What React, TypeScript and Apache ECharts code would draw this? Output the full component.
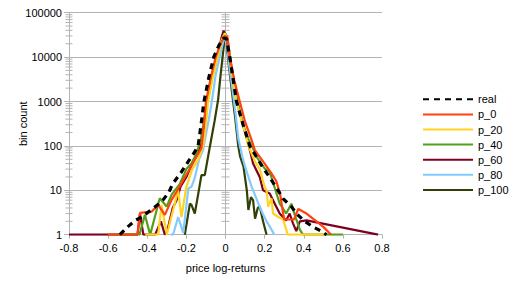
import React, { useEffect, useRef } from "react";
import * as echarts from "echarts";

const seriesNames = ["real", "p_0", "p_20", "p_40", "p_60", "p_80", "p_100"];
const seriesColors = ["#000000", "#ff420e", "#ffd320", "#579d1c", "#7e0021", "#83caff", "#314004"];

const realData = [[-0.54,1],[-0.5,1.5],[-0.46,2.1],[-0.43,2.5],[-0.38,3.6],[-0.34,5],[-0.32,6],[-0.29,9],[-0.27,14],[-0.225,26],[-0.19,45],[-0.16,70],[-0.14,100],[-0.125,300],[-0.11,1000],[-0.085,3500],[-0.06,10000],[-0.035,18000],[-0.01,27000],[0.005,26000],[0.022,10000],[0.04,3000],[0.056,1000],[0.09,300],[0.124,100],[0.16,55],[0.19,33],[0.218,22],[0.252,13],[0.275,9],[0.294,6.5],[0.337,4.3],[0.362,3],[0.405,2],[0.447,1.5],[0.49,1.2],[0.516,1]];
const p0Data = [[-0.6,1],[-0.45,1],[-0.437,3.1],[-0.378,3.3],[-0.344,4.7],[-0.31,2.8],[-0.276,6],[-0.25,9.3],[-0.216,17],[-0.182,31],[-0.148,57],[-0.123,90],[-0.11,300],[-0.1,1000],[-0.075,3500],[-0.05,10000],[-0.025,20000],[-0.005,30000],[0.01,28000],[0.022,10000],[0.045,3000],[0.073,1000],[0.1,350],[0.13,150],[0.15,80],[0.2,40],[0.235,24],[0.26,16],[0.28,8],[0.29,4],[0.3,2.2],[0.35,2.2],[0.372,3.8],[0.414,3],[0.465,2],[0.5,1.5],[0.54,1]];
const p20Data = [[-0.41,1],[-0.344,1],[-0.327,4.7],[-0.3,1],[-0.242,10],[-0.225,2.5],[-0.2,12],[-0.17,30],[-0.14,48],[-0.114,100],[-0.1,300],[-0.089,1000],[-0.065,3500],[-0.04,10000],[-0.018,25000],[-0.003,34000],[0.01,25000],[0.025,8000],[0.04,2500],[0.056,1000],[0.08,400],[0.1,200],[0.117,100],[0.15,45],[0.175,30],[0.2,12],[0.21,10],[0.218,4.3],[0.235,6.6],[0.243,3],[0.27,2.5],[0.295,2.2],[0.318,1],[0.51,1]];
const p40Data = [[-0.6,1],[-0.44,1],[-0.412,2.8],[-0.385,1],[-0.336,6.6],[-0.301,4.3],[-0.275,8],[-0.233,14],[-0.2,30],[-0.174,40],[-0.15,65],[-0.125,150],[-0.108,400],[-0.095,1000],[-0.07,3500],[-0.045,10000],[-0.02,25000],[-0.003,35000],[0.01,26000],[0.025,9000],[0.045,2500],[0.062,1000],[0.09,300],[0.12,130],[0.14,90],[0.158,57],[0.2,31],[0.226,26],[0.25,12],[0.277,5],[0.294,3.9],[0.31,3],[0.337,5],[0.354,2.8],[0.38,1.3],[0.396,1],[0.6,1]];
const p60Data = [[-0.8,1],[-0.45,1],[-0.437,3],[-0.42,1],[-0.36,1],[-0.33,2],[-0.31,1],[-0.293,1.5],[-0.27,4],[-0.25,6],[-0.23,12],[-0.2,20],[-0.17,40],[-0.14,70],[-0.12,130],[-0.105,400],[-0.092,1000],[-0.068,3500],[-0.042,10000],[-0.02,28000],[-0.01,39000],[0.005,30000],[0.02,10000],[0.04,3000],[0.058,1000],[0.085,350],[0.117,110],[0.141,40],[0.175,20],[0.192,10],[0.226,8.5],[0.252,5],[0.277,3],[0.31,2.1],[0.328,3],[0.345,1.8],[0.362,1.2],[0.38,2],[0.414,2.1],[0.78,1]];
const p80Data = [[-0.28,1],[-0.268,1],[-0.242,2.5],[-0.216,1.1],[-0.19,11],[-0.174,12],[-0.157,19],[-0.135,50],[-0.115,80],[-0.1,180],[-0.085,400],[-0.07,1000],[-0.05,4000],[-0.03,10000],[-0.012,22000],[-0.002,30000],[0.008,20000],[0.02,6000],[0.035,2000],[0.05,600],[0.065,150],[0.085,60],[0.1,34],[0.134,12],[0.168,5],[0.19,3],[0.21,2],[0.235,1.3],[0.25,1]];
const p100Data = [[-0.208,1],[-0.182,5],[-0.174,4.7],[-0.157,3],[-0.14,8],[-0.123,22],[-0.106,22],[-0.08,96],[-0.055,380],[-0.038,1080],[-0.025,4000],[-0.015,10000],[-0.005,25000],[0,30000],[0.008,15000],[0.02,5000],[0.039,1000],[0.049,450],[0.065,100],[0.075,57],[0.092,34],[0.109,10],[0.117,3.6],[0.13,7],[0.141,6],[0.151,2.3],[0.165,4],[0.175,4.3],[0.192,2],[0.21,1]];

const allData = [realData, p0Data, p20Data, p40Data, p60Data, p80Data, p100Data];

const minorMultipliers = [2, 3, 4, 5, 6, 7, 8, 9];
const decades = [1, 10, 100, 1000, 10000];

const FONT = "Liberation Sans";
const GRID_GRAY = "#b3b3b3";

export default function App() {
  const ref = useRef<HTMLDivElement>(null);
  useEffect(() => {
    if (!ref.current) return;
    const chart = echarts.init(ref.current, null, { renderer: "svg" });
    const minorTicks: number[][] = [];
    decades.forEach((d) => minorMultipliers.forEach((m) => minorTicks.push([0, m * d])));

    const lineSeries = seriesNames.map((name, i) => ({
      name,
      type: "line",
      data: allData[i],
      symbol: "none",
      showSymbol: false,
      z: 10 - i,
      color: seriesColors[i],
      lineStyle:
        i === 0
          ? { color: seriesColors[i], width: 3.2, type: [6, 5] }
          : { color: seriesColors[i], width: 2.2 },
      clip: true,
    }));

    const tickSeries = {
      name: "minorTicks",
      type: "custom",
      z: 1,
      silent: true,
      clip: false,
      data: minorTicks,
      encode: { x: 0, y: 1 },
      renderItem: (params: any, api: any) => {
        const v = api.value(1);
        const pL = api.coord([-0.8, v]);
        const pC = api.coord([0, v]);
        const st = { stroke: GRID_GRAY, lineWidth: 1 };
        return {
          type: "group",
          children: [
            { type: "line", shape: { x1: pL[0] - 3.5, y1: pL[1], x2: pL[0] + 3.5, y2: pL[1] }, style: st },
            { type: "line", shape: { x1: pC[0] - 4, y1: pC[1], x2: pC[0] + 4, y2: pC[1] }, style: st },
          ],
        };
      },
      markLine: {
        silent: true,
        symbol: "none",
        label: { show: false },
        lineStyle: { color: GRID_GRAY, width: 1, type: "solid" },
        data: [{ xAxis: 0 }],
      },
    };

    chart.setOption({
      animation: false,
      textStyle: { fontFamily: FONT },
      grid: { left: 69, right: 135, top: 12.7, bottom: 56.3, containLabel: false, outerBoundsMode: "none" },
      legend: {
        orient: "vertical",
        left: 422,
        top: 93.7,
        padding: 0,
        itemWidth: 50,
        itemHeight: 14,
        itemGap: 3.9,
        data: seriesNames,
        itemStyle: { opacity: 0 },
        textStyle: { fontFamily: FONT, fontSize: 11, color: "#000" },
      },
      xAxis: {
        type: "value",
        min: -0.8,
        max: 0.8,
        interval: 0.2,
        name: "price log-returns",
        nameLocation: "middle",
        nameGap: 28,
        nameMoveOverlap: false,
        nameTextStyle: { fontFamily: FONT, fontSize: 11, color: "#000" },
        axisLine: { show: true, onZero: false, lineStyle: { color: GRID_GRAY, width: 1 } },
        axisTick: { show: true, length: 4, lineStyle: { color: GRID_GRAY } },
        axisLabel: { fontFamily: FONT, fontSize: 11, color: "#000", margin: 8 },
        splitLine: { show: false },
      },
      yAxis: {
        type: "log",
        logBase: 10,
        min: 1,
        max: 100000,
        name: "bin count",
        nameLocation: "middle",
        nameGap: 41,
        nameMoveOverlap: false,
        nameTextStyle: { fontFamily: FONT, fontSize: 11, color: "#000" },
        axisLine: { show: true, onZero: false, lineStyle: { color: GRID_GRAY, width: 1 } },
        axisTick: { show: true, length: 5, lineStyle: { color: GRID_GRAY } },
        axisLabel: {
          fontFamily: FONT,
          fontSize: 11,
          color: "#000",
          margin: 7,
          formatter: (v: number) => String(Math.round(v)),
        },
        splitLine: { show: true, lineStyle: { color: GRID_GRAY, width: 1 } },
      },
      series: [tickSeries, ...lineSeries],
    });
    return () => chart.dispose();
  }, []);
  return (
    <div
      ref={ref}
      style={{ position: "fixed", left: 0, top: 0, width: 517, height: 291, background: "#fff" }}
    />
  );
}
